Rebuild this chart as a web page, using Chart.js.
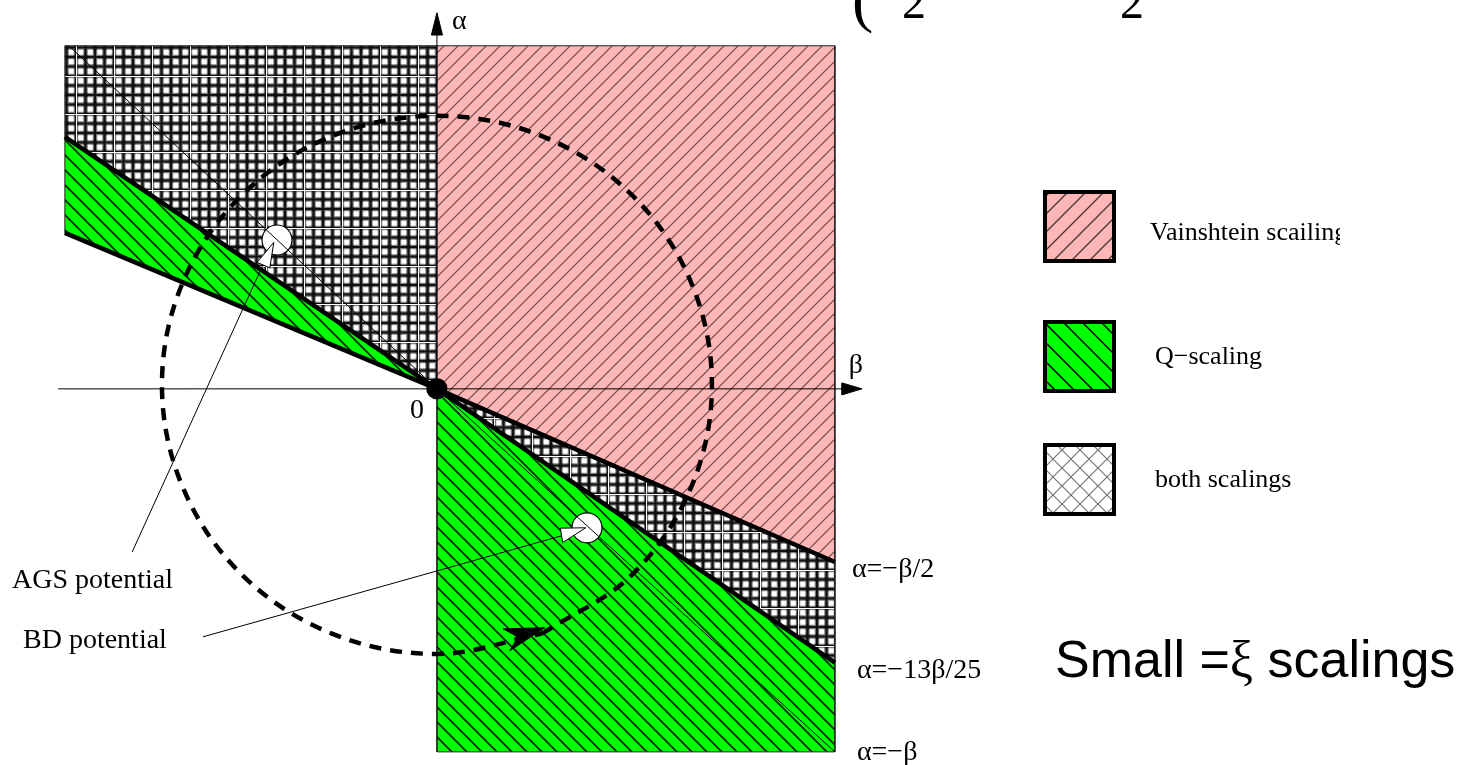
<!DOCTYPE html>
<html>
<head>
<meta charset="utf-8">
<script src="https://cdn.jsdelivr.net/npm/chart.js@4/dist/chart.umd.min.js"></script>
<style>
  html, body { margin: 0; padding: 0; background: #fff; }
</style>
</head>
<body>
<canvas id="chart" width="1472" height="765"></canvas>
<script>
// (beta, alpha) plane, one unit = the right half-width of the shaded box

// boundary lines, left end -> origin -> right end
const lineHalf = [{x: -0.935, y: 0.392}, {x: 0, y: 0}, {x: 1, y: -0.435}];   // alpha = -beta/2
const line1325 = [{x: -0.935, y: 0.633}, {x: 0, y: 0}, {x: 1, y: -0.688}];   // alpha = -13beta/25
const lineBeta = [{x: -0.925, y: 0.862}, {x: 0, y: 0}, {x: 1, y: -0.912}];   // alpha = -beta

// shaded regions
const vainshteinRegion = [{x: 0, y: 0.862}, {x: 1, y: 0.862}, {x: 1, y: -0.435}, {x: 0, y: 0}, {x: 0, y: 0.862}];
const bothLeft = [{x: -0.935, y: 0.862}, {x: 0, y: 0.862}, {x: 0, y: 0}, {x: -0.935, y: 0.633}, {x: -0.935, y: 0.862}];
const bothRight = [{x: 0, y: 0}, {x: 1, y: -0.435}, {x: 1, y: -0.688}, {x: 0, y: 0}];
const qLeft = [{x: -0.935, y: 0.633}, {x: 0, y: 0}, {x: -0.935, y: 0.392}, {x: -0.935, y: 0.633}];
const qRight = [{x: 0, y: 0}, {x: 1, y: -0.688}, {x: 1, y: -0.912}, {x: 0, y: -0.912}, {x: 0, y: 0}];

// axes and their arrow heads
const betaAxis = [{x: -0.952, y: 0}, {x: 1.02, y: 0}];
const betaHead = [{x: 1.068, y: 0}, {x: 1.018, y: 0.015}, {x: 1.018, y: -0.015}, {x: 1.068, y: 0}];
const alphaAxis = [{x: 0, y: -0.912}, {x: 0, y: 0.895}];
const alphaHead = [{x: 0, y: 0.945}, {x: -0.014, y: 0.889}, {x: 0.014, y: 0.889}, {x: 0, y: 0.945}];

// dashed loop through the plane
const loopPts = [
  {x: 0.264, y: -0.615}, {x: 0.489, y: -0.468}, {x: 0.638, y: -0.249}, {x: 0.691, y: 0.010},
  {x: 0.638, y: 0.269}, {x: 0.489, y: 0.488}, {x: 0.264, y: 0.635}, {x: 0.000, y: 0.686},
  {x: -0.264, y: 0.635}, {x: -0.489, y: 0.488}, {x: -0.638, y: 0.269}, {x: -0.691, y: 0.010},
  {x: -0.638, y: -0.249}, {x: -0.489, y: -0.468}, {x: -0.264, y: -0.615}, {x: 0.000, y: -0.666},
  {x: 0.264, y: -0.615}
];
const loopHead = [{x: 0.271, y: -0.600}, {x: 0.166, y: -0.603}, {x: 0.204, y: -0.623}, {x: 0.183, y: -0.658}, {x: 0.271, y: -0.600}];

// potentials: marker, pointer, leader line
const agsPoint = [{x: -0.402, y: 0.374}];
const agsPointer = [{x: -0.410, y: 0.368}, {x: -0.452, y: 0.318}, {x: -0.420, y: 0.304}, {x: -0.410, y: 0.368}];
const agsLeader = [{x: -0.437, y: 0.312}, {x: -0.766, y: -0.410}];
const bdPoint = [{x: 0.377, y: -0.349}];
const bdPointer = [{x: 0.374, y: -0.349}, {x: 0.310, y: -0.350}, {x: 0.316, y: -0.386}, {x: 0.374, y: -0.349}];
const bdLeader = [{x: 0.314, y: -0.369}, {x: -0.588, y: -0.623}];
const originPoint = [{x: 0, y: 0}];

const legendLabels = ['Vainshtein scailing', 'Q\u2212scaling', 'both scalings'];
const lineLabels = ['\u03b1=\u2212\u03b2/2', '\u03b1=\u221213\u03b2/25', '\u03b1=\u2212\u03b2'];

const canvas = document.getElementById('chart');
const mainCtx = canvas.getContext('2d');

function tile(size, paint) {
  const c = document.createElement('canvas');
  c.width = c.height = size;
  const g = c.getContext('2d');
  paint(g, size);
  return mainCtx.createPattern(c, 'repeat');
}

function diag(g, s, dir) {
  g.beginPath();
  if (dir === '/') {
    g.moveTo(-1, s + 1); g.lineTo(s + 1, -1);
    g.moveTo(-1, 1); g.lineTo(1, -1);
    g.moveTo(s - 1, s + 1); g.lineTo(s + 1, s - 1);
  } else {
    g.moveTo(-1, -1); g.lineTo(s + 1, s + 1);
    g.moveTo(s - 1, -1); g.lineTo(s + 1, 1);
    g.moveTo(-1, s - 1); g.lineTo(1, s + 1);
  }
  g.stroke();
}

const pinkFill = tile(14, (g, s) => {
  g.fillStyle = '#ffb6b6'; g.fillRect(0, 0, s, s);
  g.strokeStyle = '#6a4444'; g.lineWidth = 1.2; diag(g, s, '/');
});
const greenFill = tile(15, (g, s) => {
  g.fillStyle = '#00ff00'; g.fillRect(0, 0, s, s);
  g.strokeStyle = '#0a2a0a'; g.lineWidth = 1.8; diag(g, s, '\\');
});
const gridFill = tile(38, (g, s) => {
  g.fillStyle = '#fff'; g.fillRect(0, 0, s, s);
  [0, 9.5, 19, 28.5, 38].forEach(k => {
    g.strokeStyle = 'rgba(0,0,0,0.5)'; g.lineWidth = 4.5;
    g.beginPath(); g.moveTo(k, 0); g.lineTo(k, s); g.moveTo(0, k); g.lineTo(s, k); g.stroke();
    g.strokeStyle = '#111'; g.lineWidth = 2.2;
    g.beginPath(); g.moveTo(k, 0); g.lineTo(k, s); g.moveTo(0, k); g.lineTo(s, k); g.stroke();
  });
  g.strokeStyle = '#fff'; g.lineWidth = 1;
  g.beginPath(); g.moveTo(0.5, 0); g.lineTo(0.5, s); g.moveTo(0, 0.5); g.lineTo(s, 0.5); g.stroke();
});
const legendPink = tile(18, (g, s) => {
  g.fillStyle = '#ffb6b6'; g.fillRect(0, 0, s, s);
  g.strokeStyle = '#4a3030'; g.lineWidth = 1.3; diag(g, s, '/');
});
const legendGreen = tile(19, (g, s) => {
  g.fillStyle = '#00ff00'; g.fillRect(0, 0, s, s);
  g.strokeStyle = '#000'; g.lineWidth = 1.5; diag(g, s, '\\');
});
const legendCross = tile(18, (g, s) => {
  g.fillStyle = '#fff'; g.fillRect(0, 0, s, s);
  g.strokeStyle = '#777'; g.lineWidth = 1.2; diag(g, s, '/'); diag(g, s, '\\');
});

function shape(data, bg, border, width, order) {
  return { data, showLine: true, fill: 'shape', backgroundColor: bg, borderColor: border,
           borderWidth: width, pointRadius: 0, tension: 0, order };
}
function path(data, color, width, order, dash) {
  return { data, showLine: true, fill: false, borderColor: color, borderWidth: width,
           borderDash: dash || [], pointRadius: 0, tension: 0, order };
}
function marker(data, radius, bg, order) {
  return { data, showLine: false, pointRadius: radius, pointBackgroundColor: bg,
           pointBorderColor: '#000', pointBorderWidth: 1.2, order };
}

const loopSet = path(loopPts, '#000', 4.5, 6, [12, 9]);
loopSet.tension = 0.35;
loopSet.borderCapStyle = 'butt';

// text, legend and the cropped heading
const annotations = {
  id: 'annotations',
  afterDraw(chart) {
    const ctx = chart.ctx;
    const px = v => chart.scales.x.getPixelForValue(v);
    const py = v => chart.scales.y.getPixelForValue(v);
    ctx.save();
    ctx.fillStyle = '#000';
    ctx.textBaseline = 'alphabetic';
    ctx.font = '28px "Liberation Serif"';
    ctx.fillText('\u03b1', px(0) + 15, py(0.905));
    ctx.fillText('\u03b2', px(1.035), py(0.04));
    ctx.fillText('0', px(0) - 27, py(0) + 29);
    ctx.fillText(lineLabels[0], px(1) + 17, py(-0.435) + 15);
    ctx.fillText(lineLabels[1], px(1) + 22, py(-0.688) + 15);
    ctx.fillText(lineLabels[2], px(1) + 22, py(-0.912) + 8);
    ctx.fillText('AGS potential', 12, 588);
    ctx.fillText('BD potential', 23, 648);

    // legend
    const boxes = [[190, legendPink], [320, legendGreen], [443, legendCross]];
    const textY = [240, 364, 487];
    const textX = [1150, 1155, 1155];
    boxes.forEach(([top, fill]) => {
      ctx.fillStyle = fill;
      ctx.fillRect(1043, top, 73, 73);
      ctx.strokeStyle = '#000';
      ctx.lineWidth = 4;
      ctx.strokeRect(1045, top + 2, 69, 69);
    });
    ctx.fillStyle = '#000';
    ctx.font = '26px "Liberation Serif"';
    ctx.save();
    ctx.beginPath(); ctx.rect(0, 0, 1340, 765); ctx.clip();
    legendLabels.forEach((t, i) => ctx.fillText(t, textX[i], textY[i]));
    ctx.restore();

    // title
    let x = 1055;
    ctx.font = '52px "Liberation Sans"';
    ctx.fillText('Small =', x, 677);
    x += ctx.measureText('Small =').width;
    ctx.font = '52px "Liberation Serif"';
    ctx.fillText('\u03be', x, 677);
    x += ctx.measureText('\u03be').width;
    ctx.font = '52px "Liberation Sans"';
    ctx.fillText(' scalings', x, 677);

    // cropped formula at the top edge
    ctx.font = '64px "Liberation Serif"';
    ctx.fillText('(', 852, 20);
    ctx.font = '48px "Liberation Serif"';
    ctx.fillText('2', 902, 18);
    ctx.fillText('2', 1120, 18);
    ctx.restore();
  }
};

new Chart(canvas, {
  type: 'scatter',
  data: {
    datasets: [
      marker(originPoint, 10, '#000', 0),
      shape(agsPointer, '#fff', '#000', 1, 1),
      shape(bdPointer, '#fff', '#000', 1, 1),
      path(agsLeader, '#000', 1, 2),
      path(bdLeader, '#000', 1, 2),
      path(lineBeta, '#000', 1, 3),
      marker(agsPoint, 15, '#fff', 4),
      marker(bdPoint, 15, '#fff', 4),
      shape(loopHead, '#000', '#000', 1, 5),
      loopSet,
      path(betaAxis, '#000', 1, 7),
      path(alphaAxis, '#000', 1, 7),
      shape(betaHead, '#000', '#000', 1, 7),
      shape(alphaHead, '#000', '#000', 1, 7),
      path(lineHalf, '#000', 4.5, 8),
      path(line1325, '#000', 4.5, 8),
      shape(vainshteinRegion, pinkFill, '#222', 1, 10),
      shape(bothLeft, gridFill, '#222', 1, 10),
      shape(bothRight, gridFill, '#222', 1, 10),
      shape(qLeft, greenFill, '#222', 1, 10),
      shape(qRight, greenFill, '#222', 1, 10)
    ]
  },
  options: {
    responsive: false,
    animation: false,
    events: [],
    layout: { padding: 0, autoPadding: false },
    scales: {
      x: { type: 'linear', min: -1.098, max: 2.601, display: false },
      y: { type: 'linear', min: -0.945, max: 0.977, display: false }
    },
    plugins: {
      legend: { display: false },
      tooltip: { enabled: false }
    }
  },
  plugins: [annotations]
});
</script>
</body>
</html>
